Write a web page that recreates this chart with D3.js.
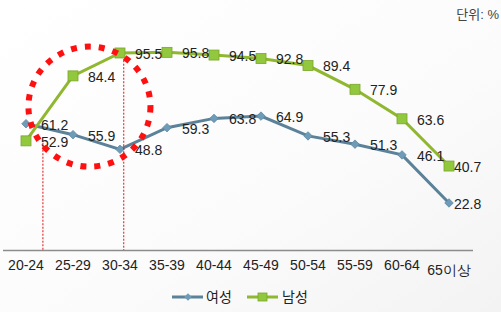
<!DOCTYPE html>
<html>
<head>
<meta charset="utf-8">
<script src="https://cdn.jsdelivr.net/npm/d3@7"></script>
<style>
    html, body { margin: 0; padding: 0; background: #fff; }
    svg { display: block; font-family: "Liberation Sans", Arial, "Noto Sans CJK KR", sans-serif; }
</style>
</head>
<body>
<div id="chart"></div>
<script>
// Age groups and participation rate (%)
const categories = ['20-24', '25-29', '30-34', '35-39', '40-44', '45-49', '50-54', '55-59', '60-64', '65이상'];
const female = [61.2, 55.9, 48.8, 59.3, 63.8, 64.9, 55.3, 51.3, 46.1, 22.8];
const male = [52.9, 84.4, 95.5, 95.8, 94.5, 92.8, 89.4, 77.9, 63.6, 40.7];
const seriesNames = ['여성', '남성'];

const width = 501, height = 312;

const svg = d3.select('#chart')
    .append('svg')
    .attr('width', width)
    .attr('height', height);

// faint background shading
const defs = svg.append('defs');
const bg = defs.append('linearGradient')
    .attr('id', 'bg')
    .attr('x1', 0).attr('y1', 0).attr('x2', 1).attr('y2', 1);
bg.append('stop').attr('offset', '0%').attr('stop-color', '#ffffff');
bg.append('stop').attr('offset', '60%').attr('stop-color', '#fbfbfb');
bg.append('stop').attr('offset', '100%').attr('stop-color', '#f3f3f3');
svg.append('rect').attr('width', width).attr('height', height).attr('fill', 'url(#bg)');

const x = d3.scaleBand()
    .domain(categories)
    .range([2.5, 472.5]);

const y = d3.scaleLinear()
    .domain([0, 100])
    .range([250, 43.7]);

const cx = d => x(d) + x.bandwidth() / 2;

// x axis
const xAxis = svg.append('g')
    .attr('transform', `translate(0,${y(0)})`)
    .call(d3.axisBottom(x).tickSize(0).tickPadding(0));
xAxis.select('.domain').attr('stroke', '#8c8c8c').attr('stroke-width', 1.3);
xAxis.selectAll('text')
    .attr('font-size', 14)
    .attr('fill', '#222')
    .attr('dy', null)
    .attr('y', 20)
    .filter(d => d === '65이상')
    .attr('y', 25);

// unit note
svg.append('text')
    .attr('x', 499)
    .attr('y', 19)
    .attr('text-anchor', 'end')
    .attr('font-size', 13)
    .attr('fill', '#444')
    .text('단위: %');

const femaleColor = '#5b8299', femaleMarker = '#6e9cb8';
const maleColor = '#8fb830', maleMarker = '#92c83e';

const line = d3.line()
    .x((d, i) => cx(categories[i]))
    .y(d => y(d));

const diamond = d3.symbol().type(d3.symbolDiamond2).size(46);

// female series
svg.append('path')
    .datum(female)
    .attr('fill', 'none')
    .attr('stroke', femaleColor)
    .attr('stroke-width', 3)
    .attr('d', line);

svg.append('g')
    .selectAll('path')
    .data(female)
    .enter()
    .append('path')
    .attr('d', diamond)
    .attr('transform', (d, i) => `translate(${cx(categories[i])},${y(d)})`)
    .attr('fill', femaleMarker)
    .attr('stroke', '#5d88a3')
    .attr('stroke-width', 0.8);

// male series
svg.append('path')
    .datum(male)
    .attr('fill', 'none')
    .attr('stroke', maleColor)
    .attr('stroke-width', 3)
    .attr('d', line);

svg.append('g')
    .selectAll('rect')
    .data(male)
    .enter()
    .append('rect')
    .attr('x', (d, i) => cx(categories[i]) - 5)
    .attr('y', d => y(d) - 5)
    .attr('width', 10)
    .attr('height', 10)
    .attr('fill', maleMarker)
    .attr('stroke', '#7aa52a')
    .attr('stroke-width', 0.8);

// value labels
const labelOffset = i => (i === categories.length - 1 ? 5 : 15);

function addLabels(values, cls) {
    svg.append('g')
        .selectAll('text')
        .data(values)
        .enter()
        .append('text')
        .attr('class', cls)
        .attr('x', (d, i) => cx(categories[i]) + labelOffset(i))
        .attr('y', d => y(d) + 1)
        .attr('dy', '0.35em')
        .attr('font-size', 14)
        .attr('fill', '#222')
        .text(d => d.toFixed(1));
}
addLabels(female, 'lbl-f');
addLabels(male, 'lbl-m');

// red highlight annotation
const step = x.step();
const ann = svg.append('g');
ann.append('ellipse')
    .attr('cx', cx(categories[0]) + step * 1.35)
    .attr('cy', y(69.5))
    .attr('rx', 61)
    .attr('ry', 60)
    .attr('fill', 'none')
    .attr('stroke', '#ff1010')
    .attr('stroke-width', 6)
    .attr('stroke-dasharray', '6 8');

const guides = [{ pos: 0.36, top: 52 }, { pos: 2.08, top: 92 }];
ann.selectAll('line')
    .data(guides)
    .enter()
    .append('line')
    .attr('x1', d => cx(categories[0]) + step * d.pos)
    .attr('x2', d => cx(categories[0]) + step * d.pos)
    .attr('y1', d => y(d.top))
    .attr('y2', y(0))
    .attr('stroke', '#e01010')
    .attr('stroke-width', 1)
    .attr('stroke-dasharray', '2 1.5');

// legend
const legend = svg.append('g').attr('transform', 'translate(0,297)');
const lf = legend.append('g').attr('transform', 'translate(172,0)');
lf.append('line').attr('x1', 0).attr('x2', 31).attr('stroke', femaleColor).attr('stroke-width', 3);
lf.append('path').attr('d', d3.symbol().type(d3.symbolDiamond2).size(36)).attr('transform', 'translate(16,0)').attr('fill', femaleMarker);
lf.append('text').attr('x', 34).attr('dy', '0.35em').attr('font-size', 14).attr('fill', '#222').text(seriesNames[0]);

const lm = legend.append('g').attr('transform', 'translate(247,0)');
lm.append('line').attr('x1', 0).attr('x2', 31).attr('stroke', maleColor).attr('stroke-width', 3);
lm.append('rect').attr('x', 11).attr('y', -4).attr('width', 9).attr('height', 8).attr('fill', maleMarker).attr('stroke', '#7aa52a').attr('stroke-width', 0.8);
lm.append('text').attr('x', 35).attr('dy', '0.35em').attr('font-size', 14).attr('fill', '#222').text(seriesNames[1]);
</script>
</body>
</html>
